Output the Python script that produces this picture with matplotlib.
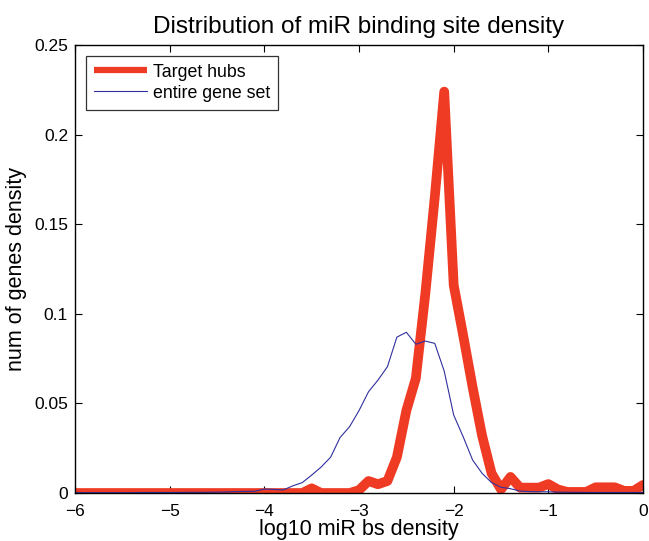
import numpy as np
import matplotlib
matplotlib.use("Agg")
import matplotlib.pyplot as plt

plt.rcParams['font.family'] = ['Liberation Sans', 'DejaVu Sans']

# bin centres of log10 miR binding site density
bin_centres = [-6.0, -5.9, -5.8, -5.7, -5.6, -5.5, -5.4, -5.3, -5.2, -5.1,
               -5.0, -4.9, -4.8, -4.7, -4.6, -4.5, -4.4, -4.3, -4.2, -4.1,
               -4.0, -3.9, -3.8, -3.7, -3.6, -3.5, -3.4, -3.3, -3.2, -3.1,
               -3.0, -2.9, -2.8, -2.7, -2.6, -2.5, -2.4, -2.3, -2.2, -2.1,
               -2.0, -1.9, -1.8, -1.7, -1.6, -1.5, -1.4, -1.3, -1.2, -1.1,
               -1.0, -0.9, -0.8, -0.7, -0.6, -0.5, -0.4, -0.3, -0.2, -0.1,
               0.0]

target_hubs = [0, 0, 0, 0, 0, 0, 0, 0, 0, 0,
               0, 0, 0, 0, 0, 0, 0, 0, 0, 0,
               0, 0, 0, 0, 0, 0.0026, 0, 0, 0, 0,
               0.0016, 0.0067, 0.0049, 0.0067, 0.020, 0.046, 0.064, 0.111, 0.165, 0.224,
               0.116, 0.088, 0.059, 0.032, 0.011, 0.002, 0.009, 0.003, 0.003, 0.003,
               0.005, 0.002, 0.0006, 0.0006, 0.0006, 0.0032, 0.0032, 0.0032, 0.0012, 0.0012,
               0.0045]

entire_gene_set = [0.0002, 0.0002, 0.0002, 0.0002, 0.0002, 0.0002, 0.0002, 0.0003, 0.0003, 0.0003,
                   0.0003, 0.0003, 0.0004, 0.0004, 0.0004, 0.0005, 0.0006, 0.0008, 0.0009, 0.001,
                   0.0022, 0.002, 0.0017, 0.004, 0.0058, 0.010, 0.0145, 0.020, 0.031, 0.037,
                   0.046, 0.0565, 0.063, 0.0705, 0.087, 0.0897, 0.083, 0.0848, 0.0835, 0.068,
                   0.0435, 0.0314, 0.0184, 0.011, 0.0058, 0.0032, 0.0024, 0.0011, 0.0008, 0.0007,
                   0.0007, 0.0005, 0.0004, 0.0004, 0.0003, 0.0003, 0.0003, 0.0003, 0.0003, 0.0003,
                   0.0003]

x_ticks = [-6, -5, -4, -3, -2, -1, 0]
y_ticks = [0, 0.05, 0.1, 0.15, 0.2, 0.25]
y_tick_labels = ["0", "0.05", "0.1", "0.15", "0.2", "0.25"]

fig = plt.figure(figsize=(6.49, 5.41), dpi=100)
ax = fig.add_axes([0.1156, 0.0887, 0.8752, 0.8281])

ax.plot(bin_centres, target_hubs, color="#EF3A24", linewidth=7.0,
        solid_joinstyle="round", solid_capstyle="round", label="Target hubs")
ax.plot(bin_centres, entire_gene_set, color="#30309E", linewidth=0.8,
        label="entire gene set")

ax.set_xlim(-6, 0)
ax.set_ylim(0, 0.25)
ax.set_xticks(x_ticks)
ax.set_xticklabels(["\u2212" + str(abs(t)) if t < 0 else str(t) for t in x_ticks])
ax.set_yticks(y_ticks)
ax.set_yticklabels(y_tick_labels)
ax.tick_params(direction="in", top=True, right=True, labelsize=12.5, length=5, width=0.8)
ax.tick_params(axis="x", pad=8)
ax.tick_params(axis="y", pad=5)
for s in ax.spines.values():
    s.set_linewidth(1.0)

ax.set_title("Distribution of miR binding site density", fontsize=17.5, pad=9)
ax.set_xlabel("log10 miR bs density", fontsize=15.5, labelpad=0)
ax.set_ylabel("num of genes density", fontsize=15.5, labelpad=5)

leg = ax.legend(loc="upper left", fontsize=12.8, handlelength=3.0, frameon=True,
                fancybox=False, borderaxespad=0.6, labelspacing=0.22,
                handletextpad=0.35, borderpad=0.45)
leg.get_frame().set_edgecolor("black")
leg.get_frame().set_linewidth(0.9)
leg.get_lines()[0].set_linewidth(4.5)
leg.get_lines()[0].set_solid_capstyle("butt")

fig.savefig("out.png", dpi=100)
